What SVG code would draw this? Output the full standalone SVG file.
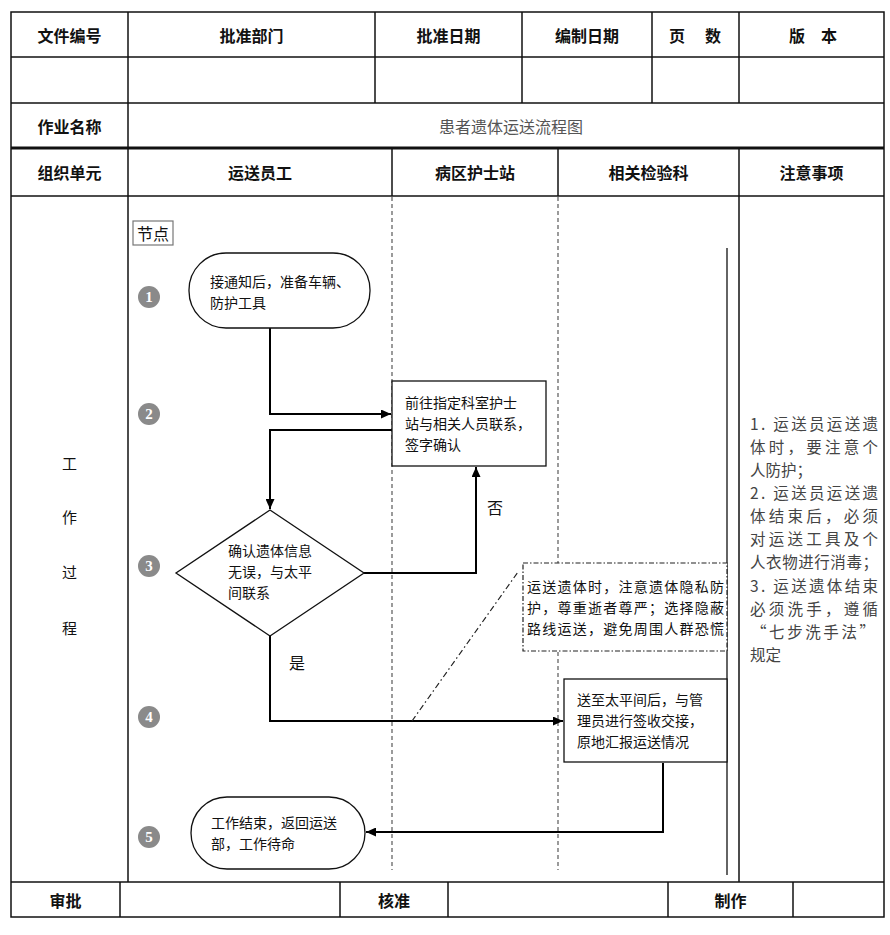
<svg xmlns="http://www.w3.org/2000/svg" width="890" height="935" viewBox="0 0 890 935">
<style>
text{font-family:"Noto Sans CJK SC","Liberation Serif",sans-serif;fill:#111}
.h{font-size:16px;font-weight:bold;text-anchor:middle;dominant-baseline:central}
.t{stroke:#111;stroke-width:1.5;fill:none}
.lane{stroke:#666;stroke-width:1.3;stroke-dasharray:4 3;fill:none}
.n{font-size:14px;dominant-baseline:central}
.shape{fill:#fff;stroke:#111;stroke-width:1.3}
.conn{fill:none;stroke:#000;stroke-width:2}
.num{fill:#8a8a8a}
.numt{font-family:"Liberation Serif",serif;font-size:15px;font-weight:bold;fill:#fff;text-anchor:middle;dominant-baseline:central}
.note{font-size:15.5px;fill:#444;dominant-baseline:central}
.side{font-size:15px;text-anchor:middle;dominant-baseline:central}
</style>
<defs>
<marker id="arr" markerUnits="userSpaceOnUse" markerWidth="10" markerHeight="9" refX="10" refY="4.5" orient="auto">
<path d="M0,0 L10,4.5 L0,9 z" fill="#000"/>
</marker>
</defs>
<rect width="890" height="935" fill="#fff"/>
<g id="table">
<rect x="11" y="12" width="873" height="905" class="t"/>
<line x1="11" y1="57" x2="884" y2="57" class="t"/>
<line x1="11" y1="103" x2="884" y2="103" class="t"/>
<line x1="11" y1="148" x2="884" y2="148" stroke="#111" stroke-width="3"/>
<line x1="11" y1="196" x2="884" y2="196" class="t"/>
<line x1="11" y1="882" x2="884" y2="882" class="t"/>
<line x1="128" y1="12" x2="128" y2="882" class="t"/>
<line x1="375" y1="12" x2="375" y2="103" class="t"/>
<line x1="522" y1="12" x2="522" y2="103" class="t"/>
<line x1="652" y1="12" x2="652" y2="103" class="t"/>
<line x1="739" y1="12" x2="739" y2="103" class="t"/>
<line x1="392" y1="148" x2="392" y2="196" class="t"/>
<line x1="558" y1="148" x2="558" y2="196" class="t"/>
<line x1="739" y1="148" x2="739" y2="882" class="t"/>
<line x1="727" y1="248" x2="727" y2="875" stroke="#111" stroke-width="1.3"/>
<line x1="120" y1="882" x2="120" y2="917" class="t"/>
<line x1="340" y1="882" x2="340" y2="917" class="t"/>
<line x1="448" y1="882" x2="448" y2="917" class="t"/>
<line x1="668" y1="882" x2="668" y2="917" class="t"/>
<line x1="793" y1="882" x2="793" y2="917" class="t"/>
<line x1="392" y1="197" x2="392" y2="870" class="lane"/>
<line x1="558" y1="197" x2="558" y2="870" class="lane"/>
<text x="69.5" y="35" class="h">文件编号</text>
<text x="251.5" y="35" class="h">批准部门</text>
<text x="448.5" y="35" class="h">批准日期</text>
<text x="587" y="35" class="h">编制日期</text>
<text x="677" y="35" class="h">页</text>
<text x="713" y="35" class="h">数</text>
<text x="797" y="35" class="h">版</text>
<text x="829" y="35" class="h">本</text>
<text x="69.5" y="126" class="h">作业名称</text>
<text x="511" y="126" font-size="16" text-anchor="middle" dominant-baseline="central" style="fill:#555">患者遗体运送流程图</text>
<text x="69.5" y="172" class="h">组织单元</text>
<text x="260" y="172" class="h">运送员工</text>
<text x="475" y="172" class="h">病区护士站</text>
<text x="648.5" y="172" class="h">相关检验科</text>
<text x="811.5" y="172" class="h">注意事项</text>
<text x="69.5" y="462" class="side">工</text>
<text x="69.5" y="516" class="side">作</text>
<text x="69.5" y="571" class="side">过</text>
<text x="69.5" y="627" class="side">程</text>
<text x="65.5" y="900" class="h">审批</text>
<text x="394" y="900" class="h">核准</text>
<text x="730.5" y="900" class="h">制作</text>
</g>
<g id="legend">
<rect x="133" y="221" width="40" height="24" fill="#fff" stroke="#777" stroke-width="1.2"/>
<text x="153" y="233" font-size="16" text-anchor="middle" dominant-baseline="central">节点</text>
<circle cx="149" cy="297" r="11" class="num"/><text x="149" y="297" class="numt">1</text>
<circle cx="149" cy="414" r="11" class="num"/><text x="149" y="414" class="numt">2</text>
<circle cx="149" cy="566" r="11" class="num"/><text x="149" y="566" class="numt">3</text>
<circle cx="149" cy="717" r="11" class="num"/><text x="149" y="717" class="numt">4</text>
<circle cx="149" cy="837" r="11" class="num"/><text x="149" y="837" class="numt">5</text>
</g>
<g id="connectors">
<path d="M270,328 V414 H391" class="conn" marker-end="url(#arr)"/>
<path d="M392,430 H270 V509" class="conn" marker-end="url(#arr)"/>
<path d="M364,573 H476 V467" class="conn" marker-end="url(#arr)"/>
<path d="M270,636 V721 H563" class="conn" marker-end="url(#arr)"/>
<path d="M663,763 V832 H366" class="conn" marker-end="url(#arr)"/>
<path d="M412,721 L518,572" fill="none" stroke="#222" stroke-width="1.2" stroke-dasharray="6 3 1.5 3"/>
<text x="495" y="507" font-size="16" text-anchor="middle" dominant-baseline="central">否</text>
<text x="297" y="662" font-size="16" text-anchor="middle" dominant-baseline="central">是</text>
</g>
<g id="node1">
<rect x="189" y="253" width="181" height="75" rx="37" ry="37" class="shape"/>
<text class="n"><tspan x="210" y="280.5">接通知后，准备车辆、</tspan><tspan x="210" y="301.5">防护工具</tspan></text>
</g>
<g id="node2">
<rect x="392" y="381" width="154" height="85" class="shape" stroke-width="1.6"/>
<text class="n"><tspan x="405" y="401.5">前往指定科室护士</tspan><tspan x="405" y="422.5">站与相关人员联系，</tspan><tspan x="405" y="443.5">签字确认</tspan></text>
</g>
<g id="node3">
<polygon points="270,510 364,573 270,636 176,573" class="shape"/>
<text class="n"><tspan x="228" y="549.5">确认遗体信息</tspan><tspan x="228" y="570.5">无误，与太平</tspan><tspan x="228" y="591.5">间联系</tspan></text>
</g>
<g id="note">
<rect x="523" y="563" width="204" height="88" fill="#fff" stroke="#222" stroke-width="1.2" stroke-dasharray="5 2 1.5 2"/>
<text class="n"><tspan x="527" y="586" textLength="197" lengthAdjust="spacing">运送遗体时，注意遗体隐私防</tspan><tspan x="527" y="607" textLength="197" lengthAdjust="spacing">护，尊重逝者尊严；选择隐蔽</tspan><tspan x="527" y="628" textLength="197" lengthAdjust="spacing">路线运送，避免周围人群恐慌</tspan></text>
</g>
<g id="node4">
<rect x="564" y="679" width="163" height="83" class="shape" stroke-width="1.6"/>
<text class="n"><tspan x="577" y="699">送至太平间后，与管</tspan><tspan x="577" y="720">理员进行签收交接，</tspan><tspan x="577" y="741">原地汇报运送情况</tspan></text>
</g>
<g id="node5">
<rect x="191" y="797" width="174" height="72" rx="36" ry="36" class="shape"/>
<text class="n"><tspan x="211" y="822">工作结束，返回运送</tspan><tspan x="211" y="843">部，工作待命</tspan></text>
</g>
<g id="notes">
<text class="note">
<tspan x="750" y="423" textLength="128" lengthAdjust="spacing">1. 运送员运送遗</tspan>
<tspan x="750" y="446" textLength="128" lengthAdjust="spacing">体时，要注意个</tspan>
<tspan x="750" y="469">人防护；</tspan>
<tspan x="750" y="492" textLength="128" lengthAdjust="spacing">2. 运送员运送遗</tspan>
<tspan x="750" y="515" textLength="128" lengthAdjust="spacing">体结束后，必须</tspan>
<tspan x="750" y="538" textLength="128" lengthAdjust="spacing">对运送工具及个</tspan>
<tspan x="750" y="561" textLength="128" lengthAdjust="spacing">人衣物进行消毒；</tspan>
<tspan x="750" y="585" textLength="128" lengthAdjust="spacing">3. 运送遗体结束</tspan>
<tspan x="750" y="608" textLength="128" lengthAdjust="spacing">必须洗手，遵循</tspan>
<tspan x="751" y="631" textLength="124" lengthAdjust="spacing">“七步洗手法”</tspan>
<tspan x="750" y="654">规定</tspan>
</text>
</g>
</svg>
